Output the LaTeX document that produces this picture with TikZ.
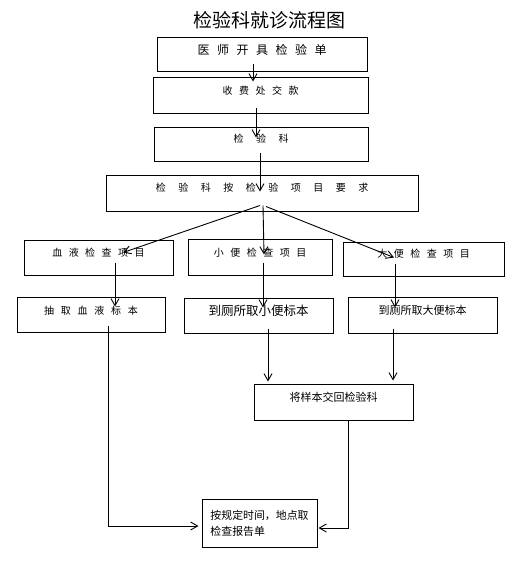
\documentclass[tikz,border=0pt]{standalone}
\usepackage{fontspec}
\newfontfamily\cjk{Noto Sans CJK SC}
\usetikzlibrary{arrows.meta}

% put a fixed gap between the characters of a word
\makeatletter
\newcommand{\spreadtext}[2]{\def\st@gap{\hspace{#1}}\st@first#2\relax}
\def\st@first#1{#1\st@next}
\def\st@next#1{\ifx#1\relax\else\st@gap#1\expandafter\st@next\fi}
\makeatother

\tikzset{
  box/.style={draw, line width=1pt, inner sep=0pt, text height=16pt, text depth=19pt,
    font=\cjk\fontsize{10}{12}\selectfont},
  notebox/.style={draw, line width=1pt, inner sep=0pt, align=left,
    font=\cjk\fontsize{10.9}{16}\selectfont},
  flow/.style={-{Straight Barb[length=7pt,width=8pt]}, line width=0.9pt},
}

\begin{document}
\begin{tikzpicture}[x=1pt, y=-1pt]
  \useasboundingbox (0,0) rectangle (525,565);

  \node[font=\cjk\fontsize{19}{20}\selectfont] (title) at (269,20) {检验科就诊流程图};

  % main column
  \node[box, minimum width=210pt, text height=17.5pt, text depth=16.5pt,
    font=\cjk\fontsize{12}{14}\selectfont] (doctor) at (262,54) {\spreadtext{7.5pt}{医师开具检验单}};
  \node[box, minimum width=215pt, text height=17pt] (pay) at (260.5,95) {\spreadtext{6.5pt}{收费处交款}};
  \node[box, minimum width=214pt, text height=15pt] (lab) at (261,144) {\spreadtext{12.5pt}{检验科}};
  \node[box, minimum width=312pt, text depth=20pt] (req) at (262,193) {\spreadtext{12.5pt}{检验科按检验项目要求}};

  % the three kinds of test
  \node[box, minimum width=149pt] (blood) at (98.5,257.5) {\spreadtext{6.5pt}{血液检查项目}};
  \node[box, minimum width=144pt, text height=17pt] (urine) at (260,257) {\spreadtext{6.5pt}{小便检查项目}};
  \node[box, minimum width=161pt, text height=15pt] (stool) at (423.5,259) {\spreadtext{6.5pt}{大便检查项目}};

  \node[box, minimum width=148pt, text height=17pt, text depth=18pt] (bloodS) at (91,314.5) {\spreadtext{6.8pt}{抽取血液标本}};
  \node[box, minimum width=149pt, text height=17pt, text depth=18pt,
    font=\cjk\fontsize{12.5}{14}\selectfont] (urineS) at (258.5,315.5) {到厕所取小便标本};
  \node[box, minimum width=149pt, text height=17pt,
    font=\cjk\fontsize{11}{13}\selectfont] (stoolS) at (422.5,315) {到厕所取大便标本};

  \node[box, minimum width=159pt, text height=17pt,
    font=\cjk\fontsize{11}{13}\selectfont] (returnS) at (333.5,402) {将样本交回检验科};
  \node[notebox, minimum width=115pt, minimum height=48pt] (report) at (259.5,523)
    {按规定时间，地点取\\检查报告单};

  % connectors
  \draw[flow] ([xshift=-9pt, yshift=8pt]doctor.south) -- ([xshift=-7.5pt, yshift=-5pt]pay.north);
  \draw[flow] ([xshift=-4.5pt, yshift=6pt]pay.south) -- ([xshift=-5pt, yshift=-11pt]lab.north);
  \draw[flow] ([xshift=-1pt, yshift=9pt]lab.south) -- ([xshift=-2pt, yshift=-17pt]req.north);

  \draw[flow] ([xshift=-2pt, yshift=6pt]req.south) -- ([xshift=24.5pt, yshift=-13pt]blood.north);
  \draw[flow] ([xshift=1pt, yshift=6pt]req.south) -- ([xshift=4pt, yshift=-16pt]urine.north);
  \draw[flow] ([xshift=4pt, yshift=5pt]req.south) -- ([xshift=-29.5pt, yshift=-16pt]stool.north);

  \draw[flow] ([xshift=16.5pt, yshift=13pt]blood.south) -- ([xshift=24pt, yshift=-10pt]bloodS.north);
  \draw[flow] ([xshift=3pt, yshift=13pt]urine.south) -- ([xshift=4.5pt, yshift=-10pt]urineS.north);
  \draw[flow] ([xshift=-28.5pt, yshift=13pt]stool.south) -- ([xshift=-27.5pt, yshift=-11pt]stoolS.north);

  \draw[flow] ([xshift=9.5pt, yshift=5pt]urineS.south) -- ([xshift=-65.5pt, yshift=2pt]returnS.north);
  \draw[flow] ([xshift=-29.5pt, yshift=5pt]stoolS.south) -- ([xshift=59.5pt, yshift=3pt]returnS.north);

  \draw[flow] ([xshift=17pt, yshift=7pt]bloodS.south) |- ([xshift=-3pt, yshift=-3pt]report.west);
  \draw[flow] ([xshift=14.5pt]returnS.south) |- ([xshift=1pt, yshift=-5pt]report.east);
\end{tikzpicture}
\end{document}
